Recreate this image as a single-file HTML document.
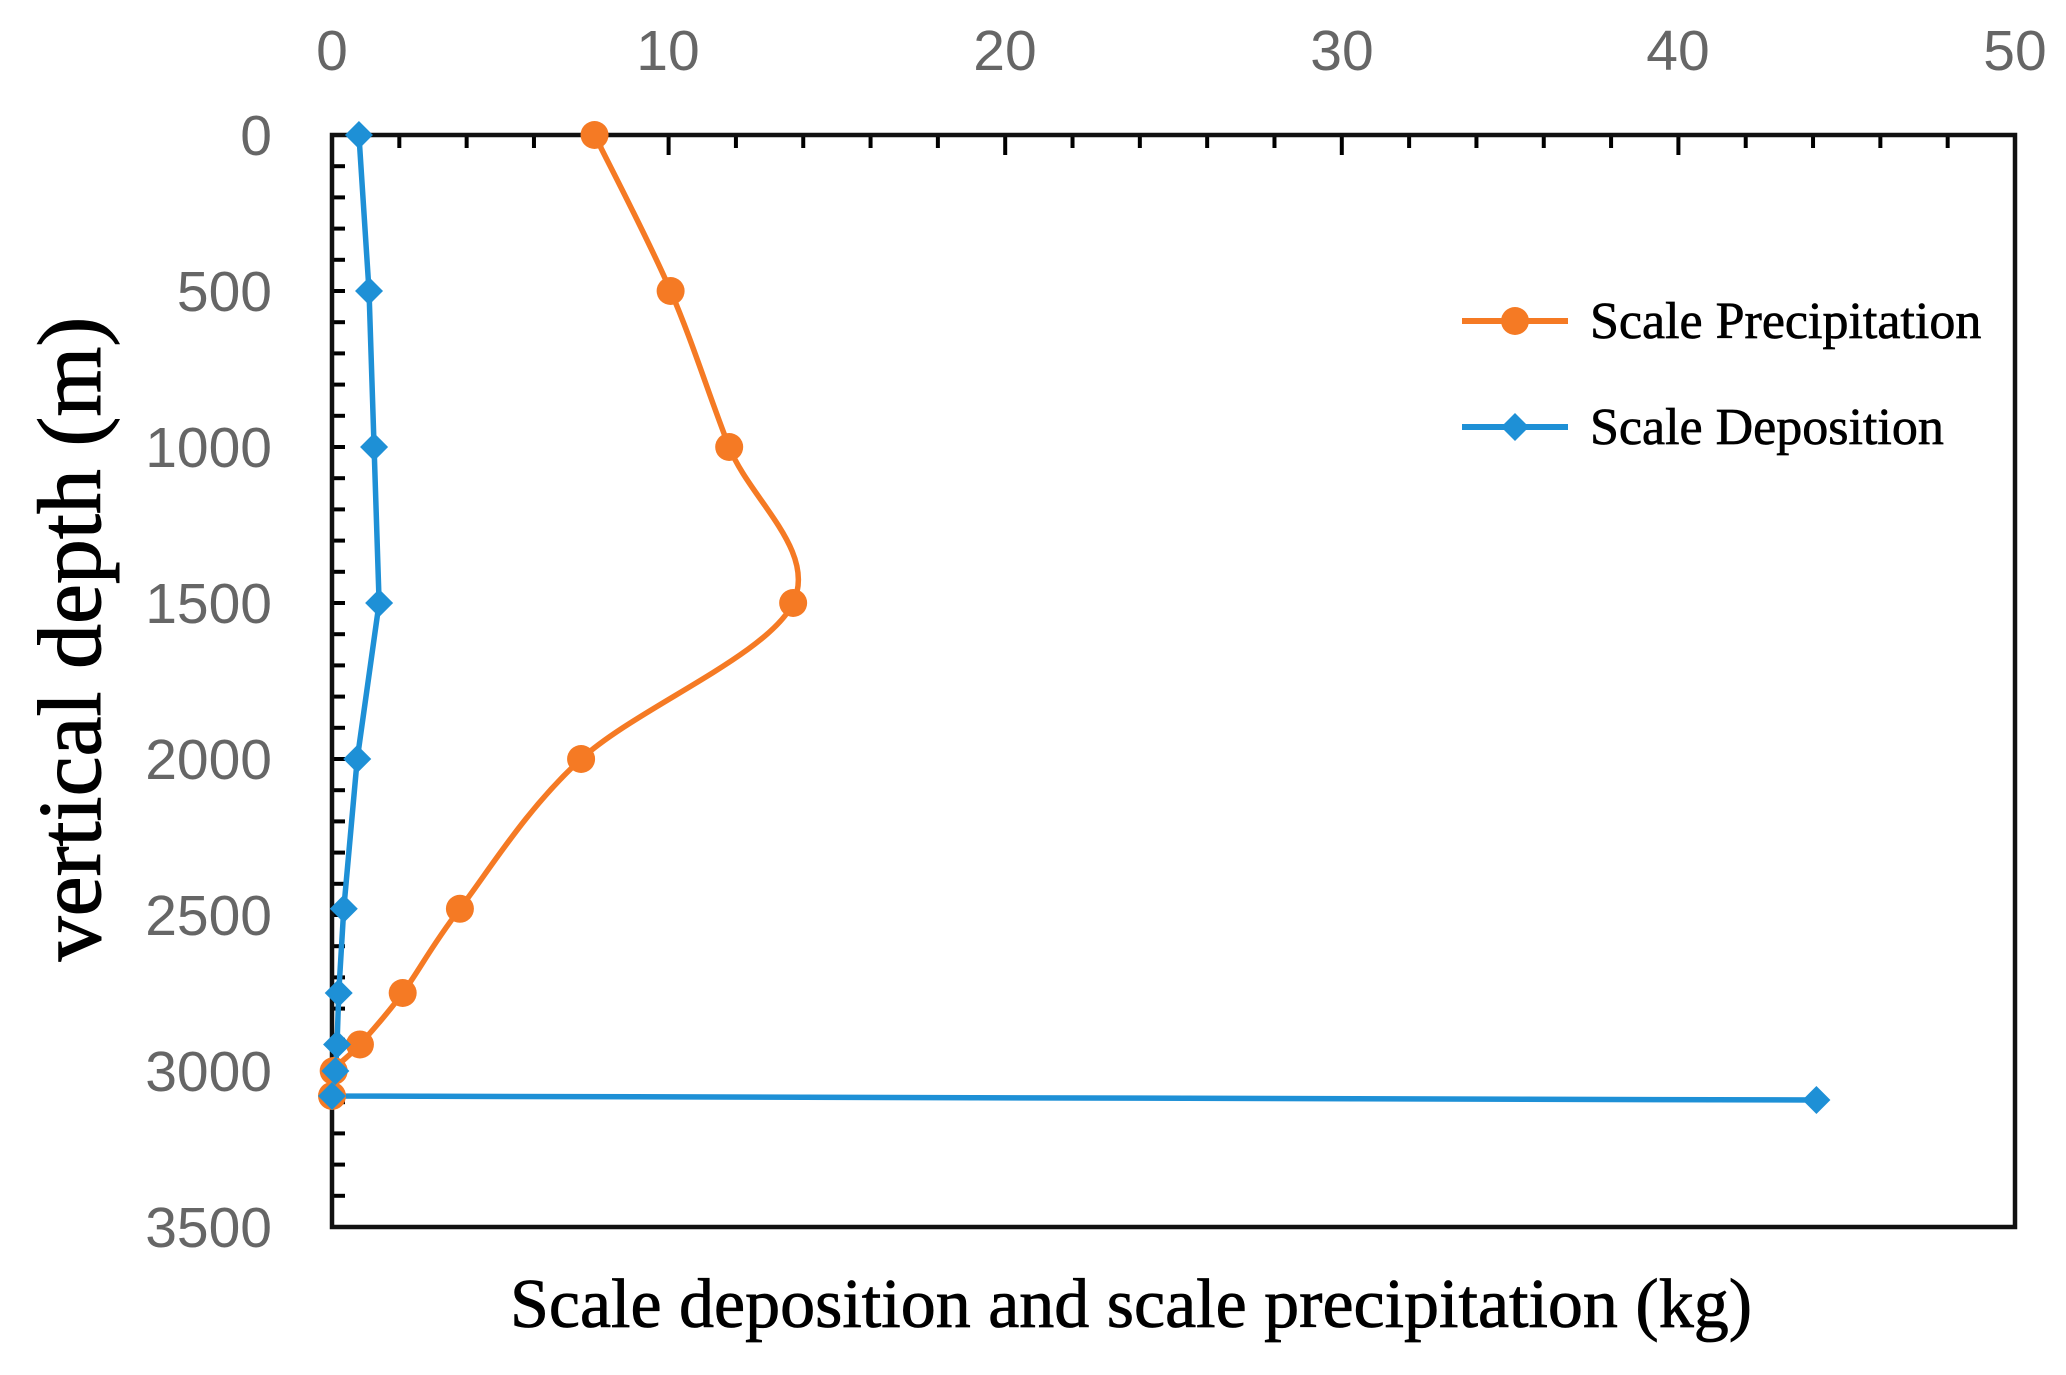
<!DOCTYPE html>
<html><head><meta charset="utf-8"><style>html,body{margin:0;padding:0;background:#fff}</style></head>
<body>
<svg id="s" width="2066" height="1375" xmlns="http://www.w3.org/2000/svg" style="display:block">
<rect width="2066" height="1375" fill="#fff"/>
<g id="ticks" stroke="#000" stroke-width="4"></g>
<rect x="332" y="135" width="1683" height="1092" fill="none" stroke="#111" stroke-width="4.5"/>
<g font-family="Liberation Sans, sans-serif" font-size="57" fill="#666" text-anchor="middle">
<text x="332" y="70">0</text><text x="668" y="70">10</text><text x="1005" y="70">20</text><text x="1342" y="70">30</text><text x="1678" y="70">40</text><text x="2015" y="70">50</text>
</g>
<g font-family="Liberation Sans, sans-serif" font-size="57" fill="#666" text-anchor="end">
<text x="272" y="155">0</text><text x="272" y="311">500</text><text x="272" y="467">1000</text><text x="272" y="623">1500</text><text x="272" y="779">2000</text><text x="272" y="935">2500</text><text x="272" y="1091">3000</text><text x="272" y="1247">3500</text>
</g>
<text transform="translate(100,639) rotate(-90)" font-family="Liberation Serif, serif" font-size="90" text-anchor="middle" fill="#000" stroke="#000" stroke-width="1">vertical depth (m)</text>
<text x="1131" y="1327" font-family="Liberation Serif, serif" font-size="70" text-anchor="middle" fill="#000" stroke="#000" stroke-width="0.8">Scale deposition and scale precipitation (kg)</text>
<path id="po" fill="none" stroke="#F57A24" stroke-width="5.5"/>
<path id="pb" fill="none" stroke="#1E90D6" stroke-width="5.5"/>
<g id="mk"></g>
<line x1="1462" y1="321" x2="1568" y2="321" stroke="#F57A24" stroke-width="6"/>
<circle cx="1515" cy="321" r="14" fill="#F57A24"/>
<line x1="1462" y1="427" x2="1568" y2="427" stroke="#1E90D6" stroke-width="6"/>
<path d="M1515 413 L1529 427 L1515 441 L1501 427Z" fill="#1E90D6"/>
<g font-family="Liberation Serif, serif" font-size="52" fill="#000" stroke="#000" stroke-width="0.7">
<text x="1590" y="338">Scale Precipitation</text>
<text x="1590" y="444">Scale Deposition</text>
</g>
</svg>
<script>
var X=v=>332+v*33.66, Y=d=>135+d*0.312;
var t=document.getElementById('ticks'),h='';
for(var v=0;v<=50;v+=2){var L=(v%10==0)?20:13;h+='<line x1="'+X(v)+'" y1="135" x2="'+X(v)+'" y2="'+(135+L)+'"/>';}
for(var d=0;d<=3500;d+=100){h+='<line x1="332" y1="'+Y(d)+'" x2="'+(332+13)+'" y2="'+Y(d)+'"/>';}
t.innerHTML=h;
var O=[[7.8,0],[10.06,500],[11.8,1000],[13.7,1500],[7.4,2000],[3.8,2480],[2.1,2750],[0.83,2915],[0.05,3000],[0,3080]];
var B=[[0.8,0],[1.1,500],[1.25,1000],[1.4,1500],[0.75,2000],[0.35,2480],[0.2,2750],[0.15,2915],[0.1,3000],[0,3080],[44.1,3093]];
function pts(a){return a.map(p=>[X(p[0]),Y(p[1])]);}
function smooth(p){var s='M'+p[0][0]+' '+p[0][1];for(var i=0;i<p.length-1;i++){var p0=p[i-1]||p[i],p1=p[i],p2=p[i+1],p3=p[i+2]||p2;var c1=[p1[0]+(p2[0]-p0[0])/6,p1[1]+(p2[1]-p0[1])/6],c2=[p2[0]-(p3[0]-p1[0])/6,p2[1]-(p3[1]-p1[1])/6];s+=' C'+c1+' '+c2+' '+p2;}return s;}
var po=pts(O),pb=pts(B);
document.getElementById('po').setAttribute('d',smooth(po));
document.getElementById('pb').setAttribute('d','M'+pb.map(p=>p.join(' ')).join(' L'));
var m='';po.forEach(p=>m+='<circle cx="'+p[0]+'" cy="'+p[1]+'" r="14" fill="#F57A24"/>');
pb.forEach(p=>m+='<path d="M'+p[0]+' '+(p[1]-14)+' L'+(p[0]+14)+' '+p[1]+' L'+p[0]+' '+(p[1]+14)+' L'+(p[0]-14)+' '+p[1]+'Z" fill="#1E90D6"/>');
document.getElementById('mk').innerHTML=m;
</script>
</body></html>
